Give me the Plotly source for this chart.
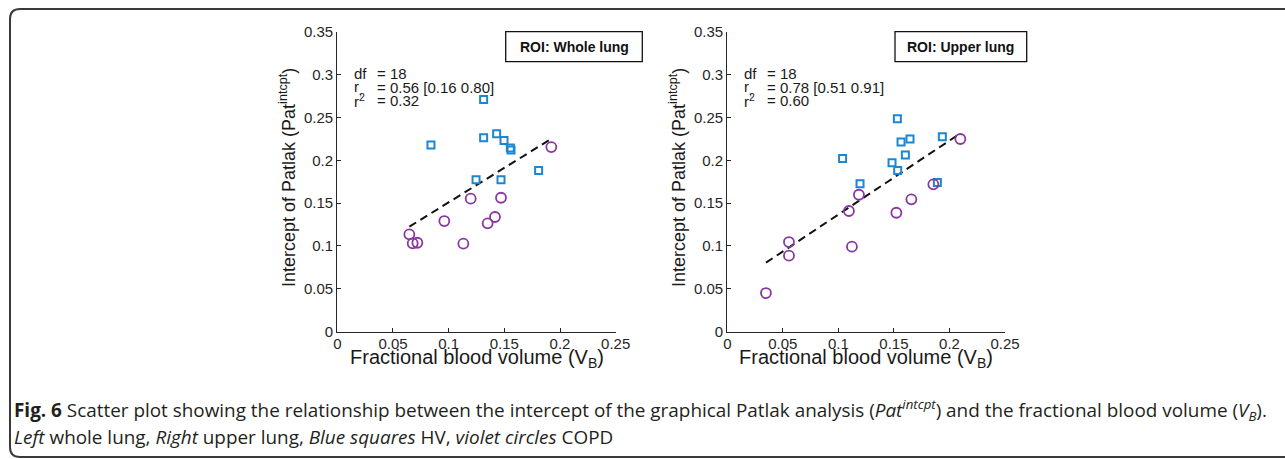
import plotly.graph_objects as go

W, H = 1285, 459

# ---------------- data ----------------
whole_hv_x = [0.0841, 0.1314, 0.1314, 0.1431, 0.1497, 0.1554, 0.1560, 0.1246, 0.1470, 0.1808]
whole_hv_y = [0.2178, 0.2710, 0.2263, 0.2310, 0.2232, 0.2143, 0.2119, 0.1773, 0.1773, 0.1882]
whole_copd_x = [0.0647, 0.0677, 0.0719, 0.0961, 0.1132, 0.1198, 0.1350, 0.1416, 0.1470, 0.1922]
whole_copd_y = [0.1136, 0.1031, 0.1038, 0.1291, 0.1027, 0.1552, 0.1264, 0.1338, 0.1563, 0.2154]
whole_fit_x = [0.0647, 0.1928]
whole_fit_y = [0.1225, 0.2256]

upper_hv_x = [0.1038, 0.1195, 0.1483, 0.1531, 0.1534, 0.1564, 0.1603, 0.1645, 0.1891, 0.1936]
upper_hv_y = [0.2022, 0.1727, 0.1972, 0.2485, 0.1882, 0.2213, 0.2061, 0.2248, 0.1742, 0.2275]
upper_copd_x = [0.0348, 0.0555, 0.0555, 0.1095, 0.1122, 0.1185, 0.1522, 0.1657, 0.1855, 0.2098]
upper_copd_y = [0.0451, 0.1046, 0.0887, 0.1408, 0.0992, 0.1598, 0.1388, 0.1544, 0.1719, 0.2248]
upper_fit_x = [0.0348, 0.2098]
upper_fit_y = [0.0805, 0.2314]

x_ticks = [0, 0.05, 0.1, 0.15, 0.2, 0.25]
x_ticklabels = ["0", "0.05", "0.1", "0.15", "0.2", "0.25"]
y_ticks = [0, 0.05, 0.1, 0.15, 0.2, 0.25, 0.3, 0.35]
y_ticklabels = ["0", "0.05", "0.1", "0.15", "0.2", "0.25", "0.3", "0.35"]

panels = [
    dict(name="ROI: Whole lung", df="18", r="0.56 [0.16 0.80]", r2="0.32"),
    dict(name="ROI: Upper lung", df="18", r="0.78 [0.51 0.91]", r2="0.60"),
]

# ---------------- styling ----------------
BLUE = "#1a86d4"
VIOLET = "#8a37a0"
AX = "#262626"
FONT = "Liberation Sans, Arial, sans-serif"


def px(x):
    return x / W


def py(y):
    return 1 - y / H


fig = go.Figure()

series = [
    (whole_hv_x, whole_hv_y, whole_copd_x, whole_copd_y, whole_fit_x, whole_fit_y, "x", "y"),
    (upper_hv_x, upper_hv_y, upper_copd_x, upper_copd_y, upper_fit_x, upper_fit_y, "x2", "y2"),
]
for hx, hy, cx, cy, fx, fy, xa, ya in series:
    fig.add_trace(go.Scatter(x=fx, y=fy, mode="lines", xaxis=xa, yaxis=ya,
                             line=dict(color="#111111", width=2, dash="8px,5px"),
                             showlegend=False))
    fig.add_trace(go.Scatter(x=hx, y=hy, mode="markers", xaxis=xa, yaxis=ya,
                             marker=dict(symbol="square-open", size=7, color=BLUE,
                                         line=dict(width=2, color=BLUE)),
                             showlegend=False))
    fig.add_trace(go.Scatter(x=cx, y=cy, mode="markers", xaxis=xa, yaxis=ya,
                             marker=dict(symbol="circle-open", size=10, color=VIOLET,
                                         line=dict(width=1.8, color=VIOLET)),
                             showlegend=False))

x_dom_left = [px(337.3), px(615.7)]
x_dom_right = [px(727.3), px(1005.0)]
y_dom = [py(331.7), py(31.7)]

axis_common = dict(showgrid=False, zeroline=False, showline=True, linecolor=AX,
                   linewidth=1.3, ticks="inside", ticklen=4, tickwidth=1.2,
                   tickcolor=AX, tickfont=dict(family=FONT, size=15, color=AX),
                   mirror=False, fixedrange=True, automargin=False)

fig.update_layout(
    template="none",
    width=W, height=H,
    margin=dict(l=0, r=0, t=0, b=0, pad=0, autoexpand=False),
    paper_bgcolor="white", plot_bgcolor="white",
    xaxis=dict(domain=x_dom_left, range=[0, 0.25], tickvals=x_ticks, ticktext=x_ticklabels,
               anchor="y", ticklabelstandoff=-2, **axis_common),
    yaxis=dict(domain=y_dom, range=[0, 0.35], tickvals=y_ticks, ticktext=y_ticklabels,
               anchor="x", **axis_common),
    xaxis2=dict(domain=x_dom_right, range=[0, 0.25], tickvals=x_ticks, ticktext=x_ticklabels,
                anchor="y2", ticklabelstandoff=-2, **axis_common),
    yaxis2=dict(domain=y_dom, range=[0, 0.35], tickvals=y_ticks, ticktext=y_ticklabels,
                anchor="x2", **axis_common),
)

ann = []
shapes = []

# frame of the figure (rounded, open to the right)
r = 10
path = (f"M {px(1300)},{py(9)} L {px(10 + r)},{py(9)} Q {px(10)},{py(9)} {px(10)},{py(9 + r)} "
        f"L {px(10)},{py(457 - r)} Q {px(10)},{py(457)} {px(10 + r)},{py(457)} L {px(1300)},{py(457)}")
shapes.append(dict(type="path", xref="paper", yref="paper", path=path,
                   line=dict(color="#3a3a3a", width=2)))

panel_geo = [
    dict(xl=337.3, xr=615.7, stat_x=352, eq_x=375, box=(505.7, 642.3), ytitle_x=287),
    dict(xl=727.3, xr=1005.0, stat_x=742, eq_x=765, box=(895.0, 1026.7), ytitle_x=677),
]

for p, g in zip(panels, panel_geo):
    # ROI box
    shapes.append(dict(type="rect", xref="paper", yref="paper",
                       x0=px(g["box"][0]), x1=px(g["box"][1]), y0=py(61.7), y1=py(31.7),
                       line=dict(color="#111111", width=1.3), fillcolor="white"))
    ann.append(dict(x=px((g["box"][0] + g["box"][1]) / 2), y=py(47), xref="paper", yref="paper",
                    text=f"<b>{p['name']}</b>", showarrow=False, xanchor="center", yanchor="middle",
                    font=dict(family=FONT, size=14, color="#111111")))
    # statistics
    labels = ["df", "r<sub>,</sub>", "r<sup>2</sup>"]
    values = [f"= {p['df']}", f"= {p['r']}", f"= {p['r2']}"]
    for i, (lab, val) in enumerate(zip(labels, values)):
        yy = 73 + 14 * i
        ann.append(dict(x=px(g["stat_x"]), y=py(yy), xref="paper", yref="paper", text=lab,
                        showarrow=False, xanchor="left", yanchor="middle",
                        font=dict(family=FONT, size=15, color="#1a1a1a")))
        ann.append(dict(x=px(g["eq_x"]), y=py(yy), xref="paper", yref="paper", text=val,
                        showarrow=False, xanchor="left", yanchor="middle",
                        font=dict(family=FONT, size=15, color="#1a1a1a")))
    # axis titles
    ann.append(dict(x=px((g["xl"] + g["xr"]) / 2), y=py(358), xref="paper", yref="paper",
                    text="Fractional blood volume (V<sub>B</sub>)", showarrow=False,
                    xanchor="center", yanchor="middle",
                    font=dict(family=FONT, size=20, color="#1a1a1a")))
    ann.append(dict(x=px(g["ytitle_x"]), y=py(178), xref="paper", yref="paper",
                    text="Intercept of Patlak (Pat<sup>intcpt</sup>)", showarrow=False,
                    textangle=-90, xanchor="center", yanchor="middle",
                    font=dict(family=FONT, size=18, color="#1a1a1a")))

CAP = "Open Sans, Noto Sans, sans-serif"
ann.append(dict(x=px(12), y=py(410), xref="paper", yref="paper",
                text="<b>Fig. 6</b> Scatter plot showing the relationship between the intercept of the "
                     "graphical Patlak analysis (<i>Pat<sup>intcpt</sup></i>) and the fractional blood "
                     "volume (<i>V<sub>B</sub></i>).",
                showarrow=False, xanchor="left", yanchor="middle",
                font=dict(family=CAP, size=18.9, color="#231f20")))
ann.append(dict(x=px(12), y=py(437), xref="paper", yref="paper",
                text="<i>Left</i> whole lung, <i>Right</i> upper lung, <i>Blue squares</i> HV, "
                     "<i>violet circles</i> COPD",
                showarrow=False, xanchor="left", yanchor="middle",
                font=dict(family=CAP, size=18.9, color="#231f20")))

fig.update_layout(annotations=ann, shapes=shapes)
fig.write_html("out.html", config={"displayModeBar": False},
               post_script="document.body.style.margin='0';document.body.style.overflow='hidden';")
